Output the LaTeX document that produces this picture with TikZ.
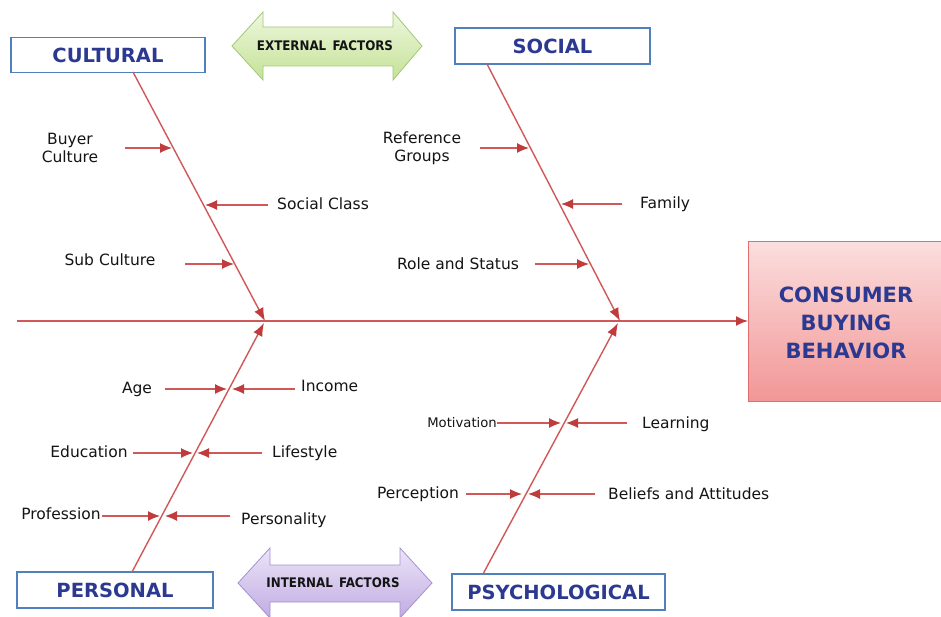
\documentclass[tikz,border=0pt]{standalone}
\usepackage{fontspec}
\setmainfont{DejaVu Sans}
\newfontfamily\condfont{DejaVu Sans Condensed}
\usetikzlibrary{arrows.meta}
\definecolor{boxblue}{RGB}{79,129,189}
\definecolor{txtblue}{RGB}{43,57,144}
\definecolor{bonered}{RGB}{208,88,88}
\definecolor{tipred}{RGB}{192,60,60}
\definecolor{pinktop}{RGB}{251,222,222}
\definecolor{pinkbot}{RGB}{242,150,150}
\definecolor{pinkline}{RGB}{225,110,110}
\definecolor{greentop}{RGB}{238,247,222}
\definecolor{greenbot}{RGB}{196,226,150}
\definecolor{greenline}{RGB}{160,200,120}
\definecolor{purptop}{RGB}{236,228,248}
\definecolor{purpbot}{RGB}{192,172,226}
\definecolor{purpline}{RGB}{165,145,205}
\definecolor{txtgray}{RGB}{20,20,20}
\tikzset{
  catbox/.style={draw=boxblue, line width=1.6pt, fill=white, inner sep=0pt,
    font=\fontsize{19.5}{21}\selectfont\bfseries, text=txtblue},
  lbl/.style={font=\fontsize{15.5}{18}\selectfont, text=txtgray, inner sep=0pt, align=center},
  bone/.style={draw=bonered, line width=1.4pt, -{Latex[length=13pt,width=10pt,color=tipred]}},
  rib/.style={draw=bonered, line width=1.2pt, -{Latex[length=12pt,width=10pt,color=tipred]}},
  factor/.style={line width=0.8pt},
  factortxt/.style={font=\condfont\fontsize{13.2}{15}\selectfont\bfseries, text=txtgray}
}
\begin{document}
\begin{tikzpicture}[x=1pt,y=-1pt]
\useasboundingbox (0,0) rectangle (941,617);
\fill[white] (0,0) rectangle (941,617);

% category boxes
\node[catbox, minimum width=194pt, minimum height=35pt] (cult) at (108,55) {CULTURAL};
\node[catbox, minimum width=195pt, minimum height=36pt] (soc) at (552.5,46) {SOCIAL};
\node[catbox, minimum width=196pt, minimum height=36pt] (pers) at (115,590) {PERSONAL};
\node[catbox, minimum width=213pt, minimum height=36pt] (psy) at (558.5,592) {PSYCHOLOGICAL};

% effect box
\node[draw=pinkline, line width=1pt, top color=pinktop, bottom color=pinkbot,
  minimum width=200pt, minimum height=160pt, anchor=north west, inner sep=0pt]
  (cbb) at (748,241) {};
\node[font=\fontsize{21}{28}\selectfont\bfseries, text=txtblue, align=center]
  (cbbtxt) at (846,323) {CONSUMER\\BUYING\\BEHAVIOR};

% factor arrows
\draw[factor, draw=greenline, top color=greentop, bottom color=greenbot]
  (232,46) -- (263,12) -- (263,27) -- (393,27) -- (393,12) -- (422,46)
  -- (393,80) -- (393,66) -- (263,66) -- (263,80) -- cycle;
\node[factortxt] (ext) at (325,46) {EXTERNAL\, FACTORS};
\draw[factor, draw=purpline, top color=purptop, bottom color=purpbot]
  (238,583) -- (270,548) -- (270,565) -- (400,565) -- (400,548) -- (432,583)
  -- (400,618) -- (400,602) -- (270,602) -- (270,618) -- cycle;
\node[factortxt] (int) at (333,583) {INTERNAL\, FACTORS};

% spine
\coordinate (tail) at (17,321);
\draw[draw=bonered, line width=1.8pt, -{Latex[length=12pt,width=10pt,color=tipred]}] (tail) -- (cbb.west |- tail);

% bone end points on spine
\coordinate (j1) at (265,321);
\coordinate (j2) at (620,321);
\coordinate (j3) at (264,323);
\coordinate (j4) at (618,323);
\coordinate (c0) at (133,72);
\coordinate (s0) at (487,64);
\coordinate (p0) at (132,572);
\coordinate (q0) at (483,574);
\draw[bone] (c0) -- (j1);
\draw[bone] (s0) -- (j2);
\draw[bone] (p0) -- (j3);
\draw[bone] (q0) -- (j4);

% ---- cultural ribs
\node[lbl] (bc) at (70,148) {Buyer\\Culture};
\node[lbl, anchor=west] (sc) at (277,204) {Social Class};
\node[lbl] (suc) at (110,260) {Sub Culture};
\coordinate (bct) at (125,148); \coordinate (bch) at (172,148);
\coordinate (sct) at (268,205); \coordinate (sch) at (205,205);
\coordinate (suct) at (185,264); \coordinate (such) at (234,264);
\draw[rib] (bct) -- (bch);
\draw[rib] (sct) -- (sch);
\draw[rib] (suct) -- (such);

% ---- social ribs
\node[lbl] (rg) at (422,148) {Reference\\Groups};
\node[lbl, anchor=west] (fam) at (640,204) {Family};
\node[lbl] (rs) at (458,264) {Role and Status};
\coordinate (rgt) at (480,148); \coordinate (rgh) at (529,148);
\coordinate (famt) at (622,204); \coordinate (famh) at (561,204);
\coordinate (rst) at (535,264); \coordinate (rsh) at (589,264);
\draw[rib] (rgt) -- (rgh);
\draw[rib] (famt) -- (famh);
\draw[rib] (rst) -- (rsh);

% ---- personal ribs
\node[lbl] (age) at (137,389) {Age};
\node[lbl, anchor=west] (inc) at (301,386) {Income};
\node[lbl] (edu) at (89,452) {Education};
\node[lbl, anchor=west] (life) at (272,453) {Lifestyle};
\node[lbl] (prof) at (61,514) {Profession};
\node[lbl, anchor=west] (pers2) at (241,520) {Personality};
\coordinate (aget) at (165,389); \coordinate (ageh) at (227,389);
\coordinate (inct) at (295,389); \coordinate (inch) at (232,389);
\coordinate (edut) at (133,453); \coordinate (eduh) at (193,453);
\coordinate (lifet) at (262,453); \coordinate (lifeh) at (197,453);
\coordinate (proft) at (102,516); \coordinate (profh) at (160,516);
\coordinate (perst) at (230,516); \coordinate (persh) at (165,516);
\draw[rib] (aget) -- (ageh);
\draw[rib] (inct) -- (inch);
\draw[rib] (edut) -- (eduh);
\draw[rib] (lifet) -- (lifeh);
\draw[rib] (proft) -- (profh);
\draw[rib] (perst) -- (persh);

% ---- psychological ribs
\node[lbl, font=\fontsize{13.2}{15}\selectfont, anchor=east] (mot) at (497,423) {Motivation};
\node[lbl, anchor=west] (learn) at (642,424) {Learning};
\node[lbl] (perc) at (418,494) {Perception};
\node[lbl, anchor=west] (bel) at (608,494) {Beliefs and Attitudes};
\coordinate (mott) at (497,423); \coordinate (moth) at (561,423);
\coordinate (learnt) at (627,423); \coordinate (learnh) at (566,423);
\coordinate (perct) at (466,494); \coordinate (perch) at (522,494);
\coordinate (belt) at (595,494); \coordinate (belh) at (528,494);
\draw[rib] (mott) -- (moth);
\draw[rib] (learnt) -- (learnh);
\draw[rib] (perct) -- (perch);
\draw[rib] (belt) -- (belh);
\end{tikzpicture}
\end{document}
